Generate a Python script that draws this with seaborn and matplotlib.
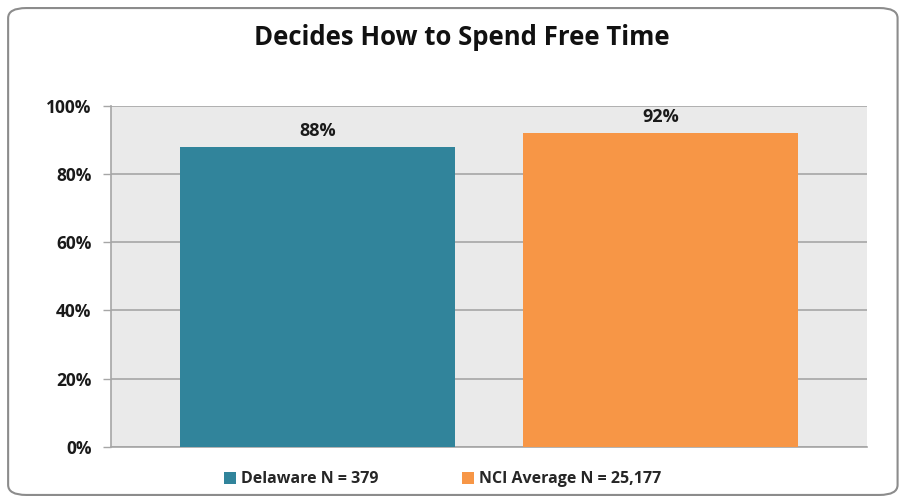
import matplotlib
matplotlib.use("Agg")
import matplotlib.pyplot as plt
import seaborn as sns
import pandas as pd
from matplotlib.patches import FancyBboxPatch, Patch
from matplotlib.ticker import PercentFormatter

# chart data
series = ["Delaware N = 379", "NCI Average N = 25,177"]
values = [88, 92]
bar_labels = ["88%", "92%"]
colors = ["#31849B", "#F79646"]
title = "Decides How to Spend Free Time"

sns.set_style("white")
plt.rcParams["font.family"] = ["Open Sans", "DejaVu Sans"]

fig = plt.figure(figsize=(9.03, 5.03), dpi=100)
ax = fig.add_axes([0.1229, 0.1113, 0.8372, 0.6786])

df = pd.DataFrame({"series": series, "value": values})
sns.barplot(data=df, x="series", y="value", hue="series", order=series,
            palette=colors, saturation=1, width=0.802, legend=False, ax=ax,
            linewidth=0, zorder=3)

ax.set_facecolor("#EAEAEA")
ax.set_xlim(-0.602, 1.602)
ax.set_ylim(0, 100)
ax.set_yticks([0, 20, 40, 60, 80, 100])
ax.yaxis.set_major_formatter(PercentFormatter(decimals=0))
ax.grid(axis="y", color="#A6A6A6", linewidth=1.2, zorder=0)
ax.set_axisbelow(True)
ax.set_xlabel("")
ax.set_ylabel("")
ax.set_xticks([])
ax.tick_params(axis="y", length=6, width=1, color="#A6A6A6", pad=8,
               labelsize=12.5, left=True)
for lbl in ax.get_yticklabels():
    lbl.set_fontweight("bold")
    lbl.set_color("#1a1a1a")
for s in ["top", "right"]:
    ax.spines[s].set_visible(False)
for s in ["left", "bottom"]:
    ax.spines[s].set_color("#A6A6A6")
    ax.spines[s].set_linewidth(1.2)

for i, (v, t) in enumerate(zip(values, bar_labels)):
    ax.text(i, v + 2.0, t, ha="center", va="bottom", fontsize=13,
            fontweight="bold", color="#1a1a1a")

fig.text(0.511, 0.925, title, ha="center", va="center", fontsize=18.5,
         fontweight="bold", color="#111111")

handles = [Patch(facecolor=c, edgecolor="none") for c in colors]
leg = fig.legend(handles, series, loc="center", bbox_to_anchor=(0.49, 0.047),
                 ncol=2, frameon=False, handlelength=0.75, handleheight=0.75,
                 columnspacing=5.2, handletextpad=0.35,
                 prop={"weight": "bold", "size": 11.5})

border = FancyBboxPatch((0.009, 0.016), 0.985, 0.968,
                        boxstyle="round,pad=0,rounding_size=0.02",
                        transform=fig.transFigure, fill=False,
                        edgecolor="#8C8C8C", linewidth=1.5)
fig.patches.append(border)

fig.savefig("out.png", dpi=100)
